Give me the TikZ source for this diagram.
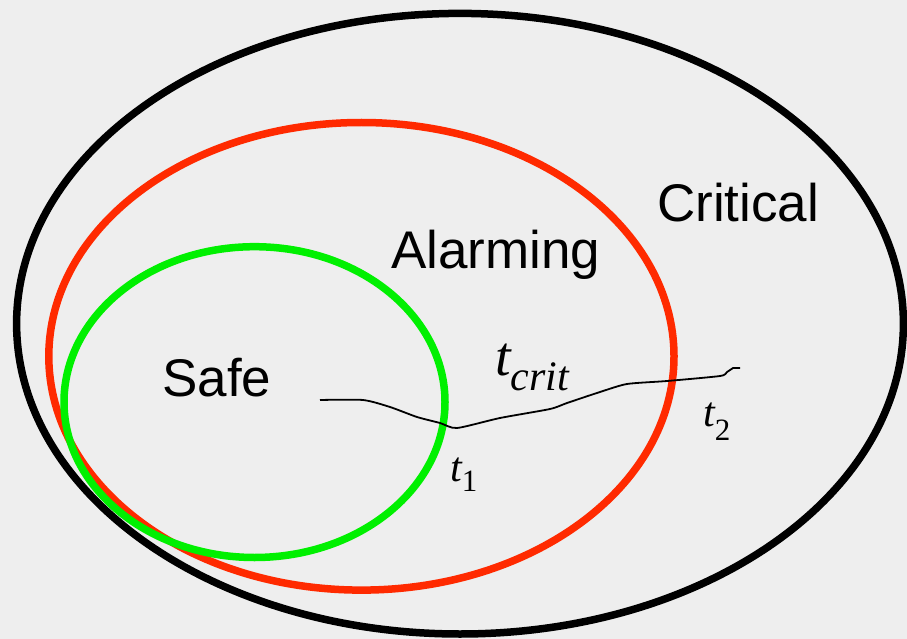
\documentclass[tikz,border=0pt]{standalone}
\usepackage{fontspec}
\setsansfont{Liberation Sans}
\newfontfamily\timesfont{Liberation Serif}
\usepackage{tikz}
\usetikzlibrary{positioning}
\definecolor{bggray}{HTML}{EEEEEE}
\definecolor{alarmred}{HTML}{FF2A00}
\definecolor{safegreen}{HTML}{00F000}
\newcommand{\tsub}[3]{t\raisebox{-#3pt}{\fontsize{#2}{#2}\selectfont #1}}

\begin{document}
\begin{tikzpicture}[x=1pt, y=-1pt,
    ring/.style={line width=7.5pt},
    regiontext/.style={font=\sffamily\fontsize{53}{60}\selectfont, inner sep=0pt, anchor=base west},
    timetext/.style={font=\timesfont\itshape\fontsize{42}{48}\selectfont, inner sep=0pt, anchor=base west}]
    \fill[bggray] (0,0) rectangle (907,639); %背景
    \useasboundingbox (0,0) rectangle (907,639);

    \draw[ring, black] (460,323.7) ellipse [x radius=443.4pt, y radius=310.3pt]; %Critical
    \draw[ring, alarmred] (361.4,356.3) ellipse [x radius=312.6pt, y radius=233.8pt]; %Alarming
    \draw[ring, safegreen] (254.5,402.1) ellipse [x radius=190.5pt, y radius=155.4pt]; %Safe

    \node[regiontext] (critical) at (657,221.7) {Critical};
    \node[regiontext] (alarming) at (391,268.3) {Alarming};
    \node[regiontext] (safe) at (162,396.7) {Safe};

    %軌跡
    \coordinate (start) at (320,400);
    \coordinate (stop) at (740,368);
    \draw[line width=1.8pt] (start) plot[smooth, tension=0.4] coordinates {(320,400) (363,400) (390,407) (417,417) (440,423) (457,428) (500,418) (550,409) (567,403) (600,392) (627,384) (667,381) (720,376) (727,372) (733,368)} -- (stop);

    \node[timetext, font=\timesfont\itshape\fontsize{56}{60}\selectfont] (tcrit) at (495,375) {\tsub{crit}{42}{15}};
    \node[timetext] (t1) at (450,481.7) {\tsub{\upshape 1}{31}{10}};
    \node[timetext] (t2) at (703,426.7) {\tsub{\upshape 2}{31}{14}};
\end{tikzpicture}
\end{document}
